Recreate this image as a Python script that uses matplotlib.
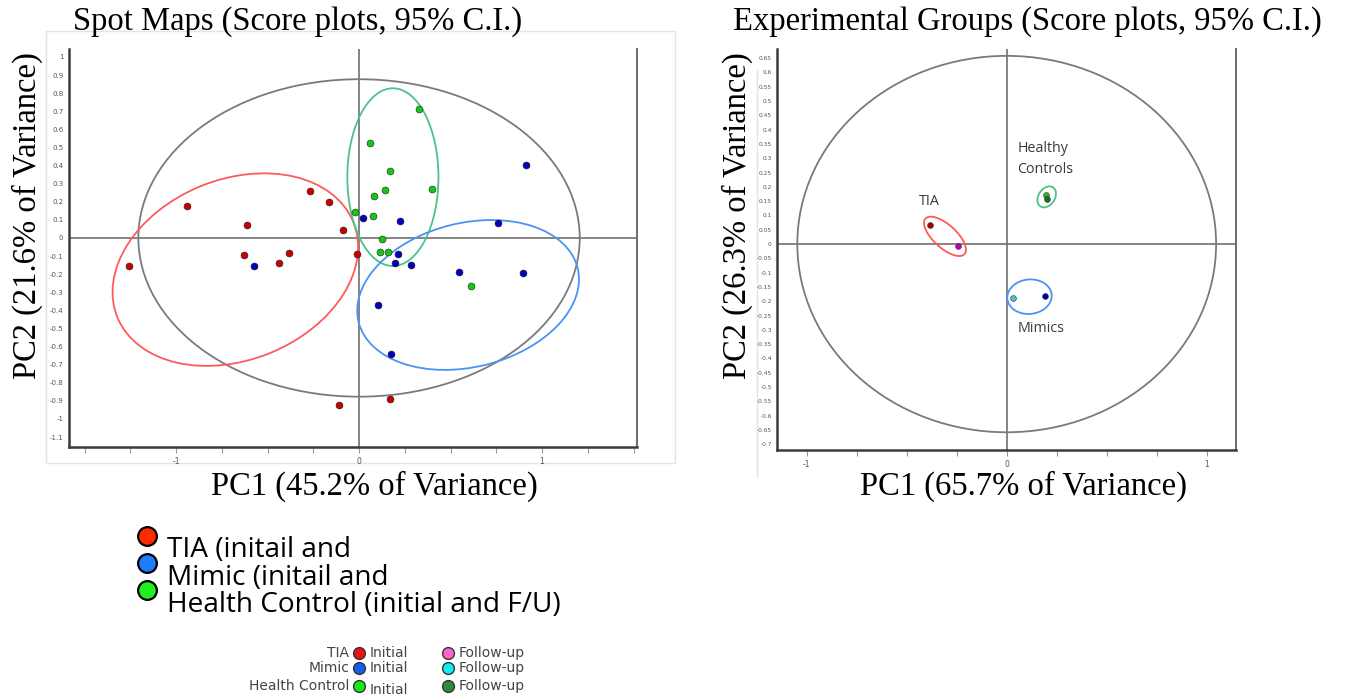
import numpy as np
import matplotlib
matplotlib.use('Agg')
from matplotlib import pyplot as plt
from matplotlib.patches import Ellipse, Rectangle

# ---- Spot maps (left panel) ----
tia_x = [-1.255, -0.938, -0.612, -0.627, -0.435, -0.384, -0.268, -0.162, -0.107, -0.089, -0.013, 0.169]
tia_y = [-0.155, 0.178, 0.072, -0.094, -0.136, -0.085, 0.262, 0.197, -0.922, 0.044, -0.090, -0.891]
mimic_x = [-0.574, 0.022, 0.226, 0.911, 0.761, 0.215, 0.197, 0.286, 0.545, 0.896, 0.106, 0.175]
mimic_y = [-0.155, 0.109, 0.094, 0.401, 0.085, -0.087, -0.140, -0.151, -0.188, -0.192, -0.368, -0.641]
hc_x = [0.326, 0.058, 0.169, 0.140, 0.397, 0.084, -0.022, 0.078, 0.124, 0.115, 0.160, 0.610]
hc_y = [0.711, 0.525, 0.368, 0.267, 0.271, 0.234, 0.142, 0.123, -0.007, -0.076, -0.076, -0.265]

# 95% ellipses: centre x, centre y, half extent x, half extent y, correlation
spot_ellipses = {
    'all':   (0.0, 0.0, 1.206, 0.877, 0.0),
    'tia':   (-0.676, -0.175, 0.671, 0.532, 0.234),
    'hc':    (0.185, 0.336, 0.249, 0.491, 0.0),
    'mimic': (0.596, -0.315, 0.606, 0.414, 0.210),
}

# ---- Experimental groups (right panel) ----
grp_names = ['TIA initial', 'TIA follow-up', 'Mimic initial', 'Mimic follow-up', 'HC initial', 'HC follow-up']
grp_x = [-0.384, -0.242, 0.193, 0.030, 0.197, 0.199]
grp_y = [0.067, -0.007, -0.182, -0.190, 0.171, 0.158]

grp_ellipses = {
    'all':   (0.0, 0.0, 1.047, 0.658, 0.0),
    'tia':   (-0.3085, 0.027, 0.105, 0.0689, -0.68),
    'hc':    (0.200, 0.165, 0.0465, 0.0367, 0.3),
    'mimic': (0.114, -0.184, 0.111, 0.0605, 0.05),
}

ell_colors = {'all': '#7a7a7a', 'tia': '#ff5a5a', 'hc': '#4cc288', 'mimic': '#4a93f5'}


def conf_ellipse(ax, params, color, lw=1.3):
    cx, cy, sdx, sdy, r = params
    cov = np.array([[sdx ** 2, r * sdx * sdy], [r * sdx * sdy, sdy ** 2]])
    vals, vecs = np.linalg.eigh(cov)
    angle = np.degrees(np.arctan2(vecs[1, 1], vecs[0, 1]))
    ax.add_patch(Ellipse((cx, cy), 2 * np.sqrt(vals[1]), 2 * np.sqrt(vals[0]), angle=angle,
                         fill=False, edgecolor=color, lw=lw, zorder=2))


def style_axes(ax, yticks, xlim, ylim):
    ax.set_xlim(*xlim)
    ax.set_ylim(*ylim)
    ax.axhline(0, color='#707070', lw=1.2, zorder=1)
    ax.axvline(0, color='#707070', lw=1.2, zorder=1)
    ax.spines['top'].set_visible(False)
    for s in ('left', 'bottom'):
        ax.spines[s].set_color('#3c3c3c')
        ax.spines[s].set_linewidth(1.8)
    ax.spines['right'].set_color('#6a6a6a')
    ax.spines['right'].set_linewidth(1.4)
    xt = np.arange(-1.5, 1.51, 0.25)
    xt = xt[(xt >= xlim[0]) & (xt <= xlim[1])]
    ax.set_xticks(xt)
    ax.set_xticklabels([f"{v:g}" if abs(v - round(v)) < 1e-9 else '' for v in xt])
    ax.set_yticks(yticks)
    ax.set_yticklabels([f"{v:g}" for v in yticks])
    ax.tick_params(axis='x', length=4, width=0.8, color='#9a9a9a', pad=3,
                   labelsize=5.5, labelcolor='#555555')
    ax.tick_params(axis='y', length=0, pad=4, labelsize=5, labelcolor='#555555')


fig = plt.figure(figsize=(13.49, 6.98), dpi=100)
W, H = 1349.0, 698.0

# overlay in pixel coordinates for frames and legends
ov = fig.add_axes([0, 0, 1, 1], zorder=0)
ov.set_xlim(0, W)
ov.set_ylim(H, 0)
ov.axis('off')
ov.add_patch(Rectangle((45.7, 31), 629, 432, fill=False, edgecolor='#e4e4e4', lw=1))
ov.plot([756.7, 756.7], [70, 477], color='#e4e4e4', lw=1)

# left panel
ax1 = fig.add_axes([69 / W, 1 - 447 / H, 568 / W, 398 / H], zorder=1)
ax1.patch.set_alpha(0)
style_axes(ax1, np.round(np.arange(-1.1, 1.01, 0.1), 2), (-1.585, 1.519), (-1.155, 1.044))
for key in ('all', 'tia', 'hc', 'mimic'):
    conf_ellipse(ax1, spot_ellipses[key], ell_colors[key])
mk = dict(marker='o', ls='none', ms=5, mec='#202020', mew=0.4, zorder=3)
ax1.plot(tia_x, tia_y, mfc='#c80000', **mk)
ax1.plot(mimic_x, mimic_y, mfc='#0000c0', **mk)
ax1.plot(hc_x, hc_y, mfc='#14c814', **mk)

# right panel
ax2 = fig.add_axes([777.3 / W, 1 - 450 / H, 458.7 / W, 401 / H], zorder=1)
ax2.patch.set_alpha(0)
style_axes(ax2, np.round(np.arange(-0.7, 0.651, 0.05), 2), (-1.147, 1.1465), (-0.720, 0.682))
ax2.tick_params(axis='y', labelsize=4.2)
for key in ('all', 'tia', 'hc', 'mimic'):
    conf_ellipse(ax2, grp_ellipses[key], ell_colors[key])
grp_colors = ['#a80000', '#c000c0', '#0000a8', '#40c4c4', '#22bb22', '#1a6e1a']
for gx, gy, gc in zip(grp_x, grp_y, grp_colors):
    ax2.plot(gx, gy, marker='o', ms=4.2, mfc=gc, mec='#303030', mew=0.4, zorder=3)
afont = dict(family='Open Sans', fontsize=10.3, color='#3a3a3a')
ax2.text(-0.389, 0.148, 'TIA', ha='center', va='center', **afont)
ax2.text(0.053, 0.335, 'Healthy', ha='left', va='center', **afont)
ax2.text(0.053, 0.259, 'Controls', ha='left', va='center', **afont)
ax2.text(0.0565, -0.295, 'Mimics', ha='left', va='center', **afont)

# titles and axis labels
sfont = dict(family='Liberation Serif', fontsize=23.5, color='black')
fig.text(73 / W, 1 - 22 / H, 'Spot Maps (Score plots, 95% C.I.)', ha='left', va='center', **sfont)
fig.text(733 / W, 1 - 22 / H, 'Experimental Groups (Score plots, 95% C.I.)', ha='left', va='center', **sfont)
fig.text(374.5 / W, 1 - 486 / H, 'PC1 (45.2% of Variance)', ha='center', va='center', **sfont)
fig.text(1024 / W, 1 - 486 / H, 'PC1 (65.7% of Variance)', ha='center', va='center', **sfont)
fig.text(27 / W, 1 - 216 / H, 'PC2 (21.6% of Variance)', ha='center', va='center', rotation=90, **sfont)
fig.text(737 / W, 1 - 216 / H, 'PC2 (26.3% of Variance)', ha='center', va='center', rotation=90, **sfont)

# big legend
big_labels = ['TIA (initail and', 'Mimic (initail and', 'Health Control (initial and F/U)']
big_colors = ['#ff2a00', '#1e7cff', '#22ee22']
for i, (lab, col) in enumerate(zip(big_labels, big_colors)):
    ov.plot(146.7, 536 + 27 * i, marker='o', ms=13.5, mfc=col, mec='black', mew=1.6)
    ov.text(167, 557 + 27.6 * i, lab, ha='left', va='baseline', family='Open Sans',
            fontsize=20.2, color='black')

# small legend
small_groups = ['TIA', 'Mimic', 'Health Control']
init_colors = ['#ee1111', '#1060ee', '#11ee11']
fu_colors = ['#ff66cc', '#11eeee', '#2e8b3a']
rows_y = [652.7, 668.3, 685.7]
sfont2 = dict(family='DejaVu Sans', fontsize=10, color='#444444', va='center')
for i, grp in enumerate(small_groups):
    y = rows_y[i]
    ov.text(349.3, y, grp, ha='right', **sfont2)
    ov.plot(359.3, y, marker='o', ms=8.5, mfc=init_colors[i], mec='#333333', mew=1.0)
    ov.text(370, y + (4.5 if i == 2 else 0), 'Initial', ha='left', **sfont2)
    ov.plot(448.3, y, marker='o', ms=8.5, mfc=fu_colors[i], mec='#333333', mew=1.0)
    ov.text(458.3, y, 'Follow-up', ha='left', **sfont2)

fig.savefig('out.png', dpi=100)
